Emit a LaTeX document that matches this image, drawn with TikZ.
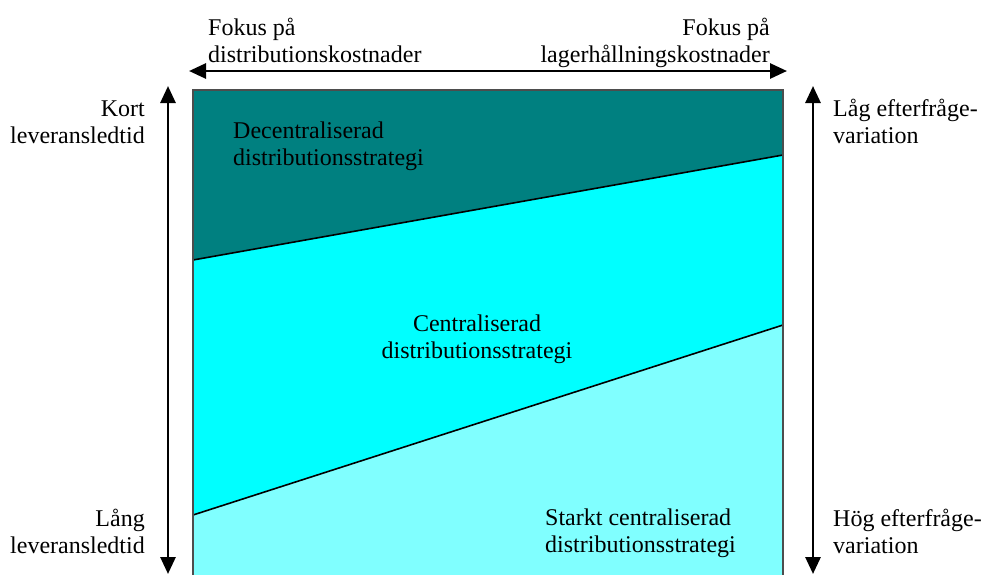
\documentclass[tikz,border=0pt]{standalone}
\usepackage{fontspec}
\setmainfont{Liberation Serif}
\usetikzlibrary{arrows.meta}
\definecolor{darkteal}{HTML}{008080}
\definecolor{midcyan}{HTML}{00FFFF}
\definecolor{lightcyan}{HTML}{80FFFF}
\definecolor{edgegray}{HTML}{4D4D4D}
\tikzset{
  lbl/.style={inner sep=0pt, font=\fontsize{24}{27}\selectfont},
  tip/.tip={Triangle[length=17pt,width=15pt]},
  axisarrow/.style={line width=2.8pt, tip-tip},
  zoneline/.style={line width=1.6pt, black},
}
\begin{document}
\begin{tikzpicture}[x=1pt,y=-1pt]
\useasboundingbox (0,0) rectangle (981,574);
% corners of the strategy chart
\coordinate (tl) at (193,90);
\coordinate (tr) at (783,90);
\coordinate (bl) at (193,580);
\coordinate (br) at (783,580);
\coordinate (al) at (193,260);
\coordinate (ar) at (783,155);
\coordinate (cl) at (193,515);
\coordinate (cr) at (783,325);
% zones
\fill[darkteal] (tl) -- (tr) -- (ar) -- (al) -- cycle;
\fill[midcyan] (al) -- (ar) -- (cr) -- (cl) -- cycle;
\fill[lightcyan] (cl) -- (cr) -- (br) -- (bl) -- cycle;
\draw[zoneline] (al) -- (ar);
\draw[zoneline] (cl) -- (cr);
\draw[edgegray, line width=2pt] (bl) -- (tl) -- (tr) -- (br);
% axes
\coordinate (hl) at (189,71);
\coordinate (hr) at (787,71);
\coordinate (lt) at (168,86);
\coordinate (lb) at (168,574);
\coordinate (rt) at (813,86);
\coordinate (rb) at (813,574);
\draw[axisarrow] (hl) -- (hr);
\draw[axisarrow] (lt) -- (lb);
\draw[axisarrow] (rt) -- (rb);
% labels (anchored at the baseline of their last line)
\node[lbl, anchor=base west, align=left] (fd) at (208,62) {Fokus på\\distributionskostnader};
\node[lbl, anchor=base east, align=right] (fl) at (770,62) {Fokus på\\lagerhållningskostnader};
\node[lbl, anchor=base east, align=right] (kort) at (145,143) {Kort\\leveransledtid};
\node[lbl, anchor=base east, align=right] (lang) at (145,553) {Lång\\leveransledtid};
\node[lbl, anchor=base west, align=left] (lagv) at (833,143) {Låg efterfråge-\\variation};
\node[lbl, anchor=base west, align=left] (hogv) at (833,553) {Hög efterfråge-\\variation};
\node[lbl, anchor=base west, align=left] (dec) at (233,165) {Decentraliserad\\distributionsstrategi};
\node[lbl, anchor=base, align=center] (cen) at (477,358) {Centraliserad\\distributionsstrategi};
\node[lbl, anchor=base west, align=left] (sta) at (545,552) {Starkt centraliserad\\distributionsstrategi};
\end{tikzpicture}
\end{document}
